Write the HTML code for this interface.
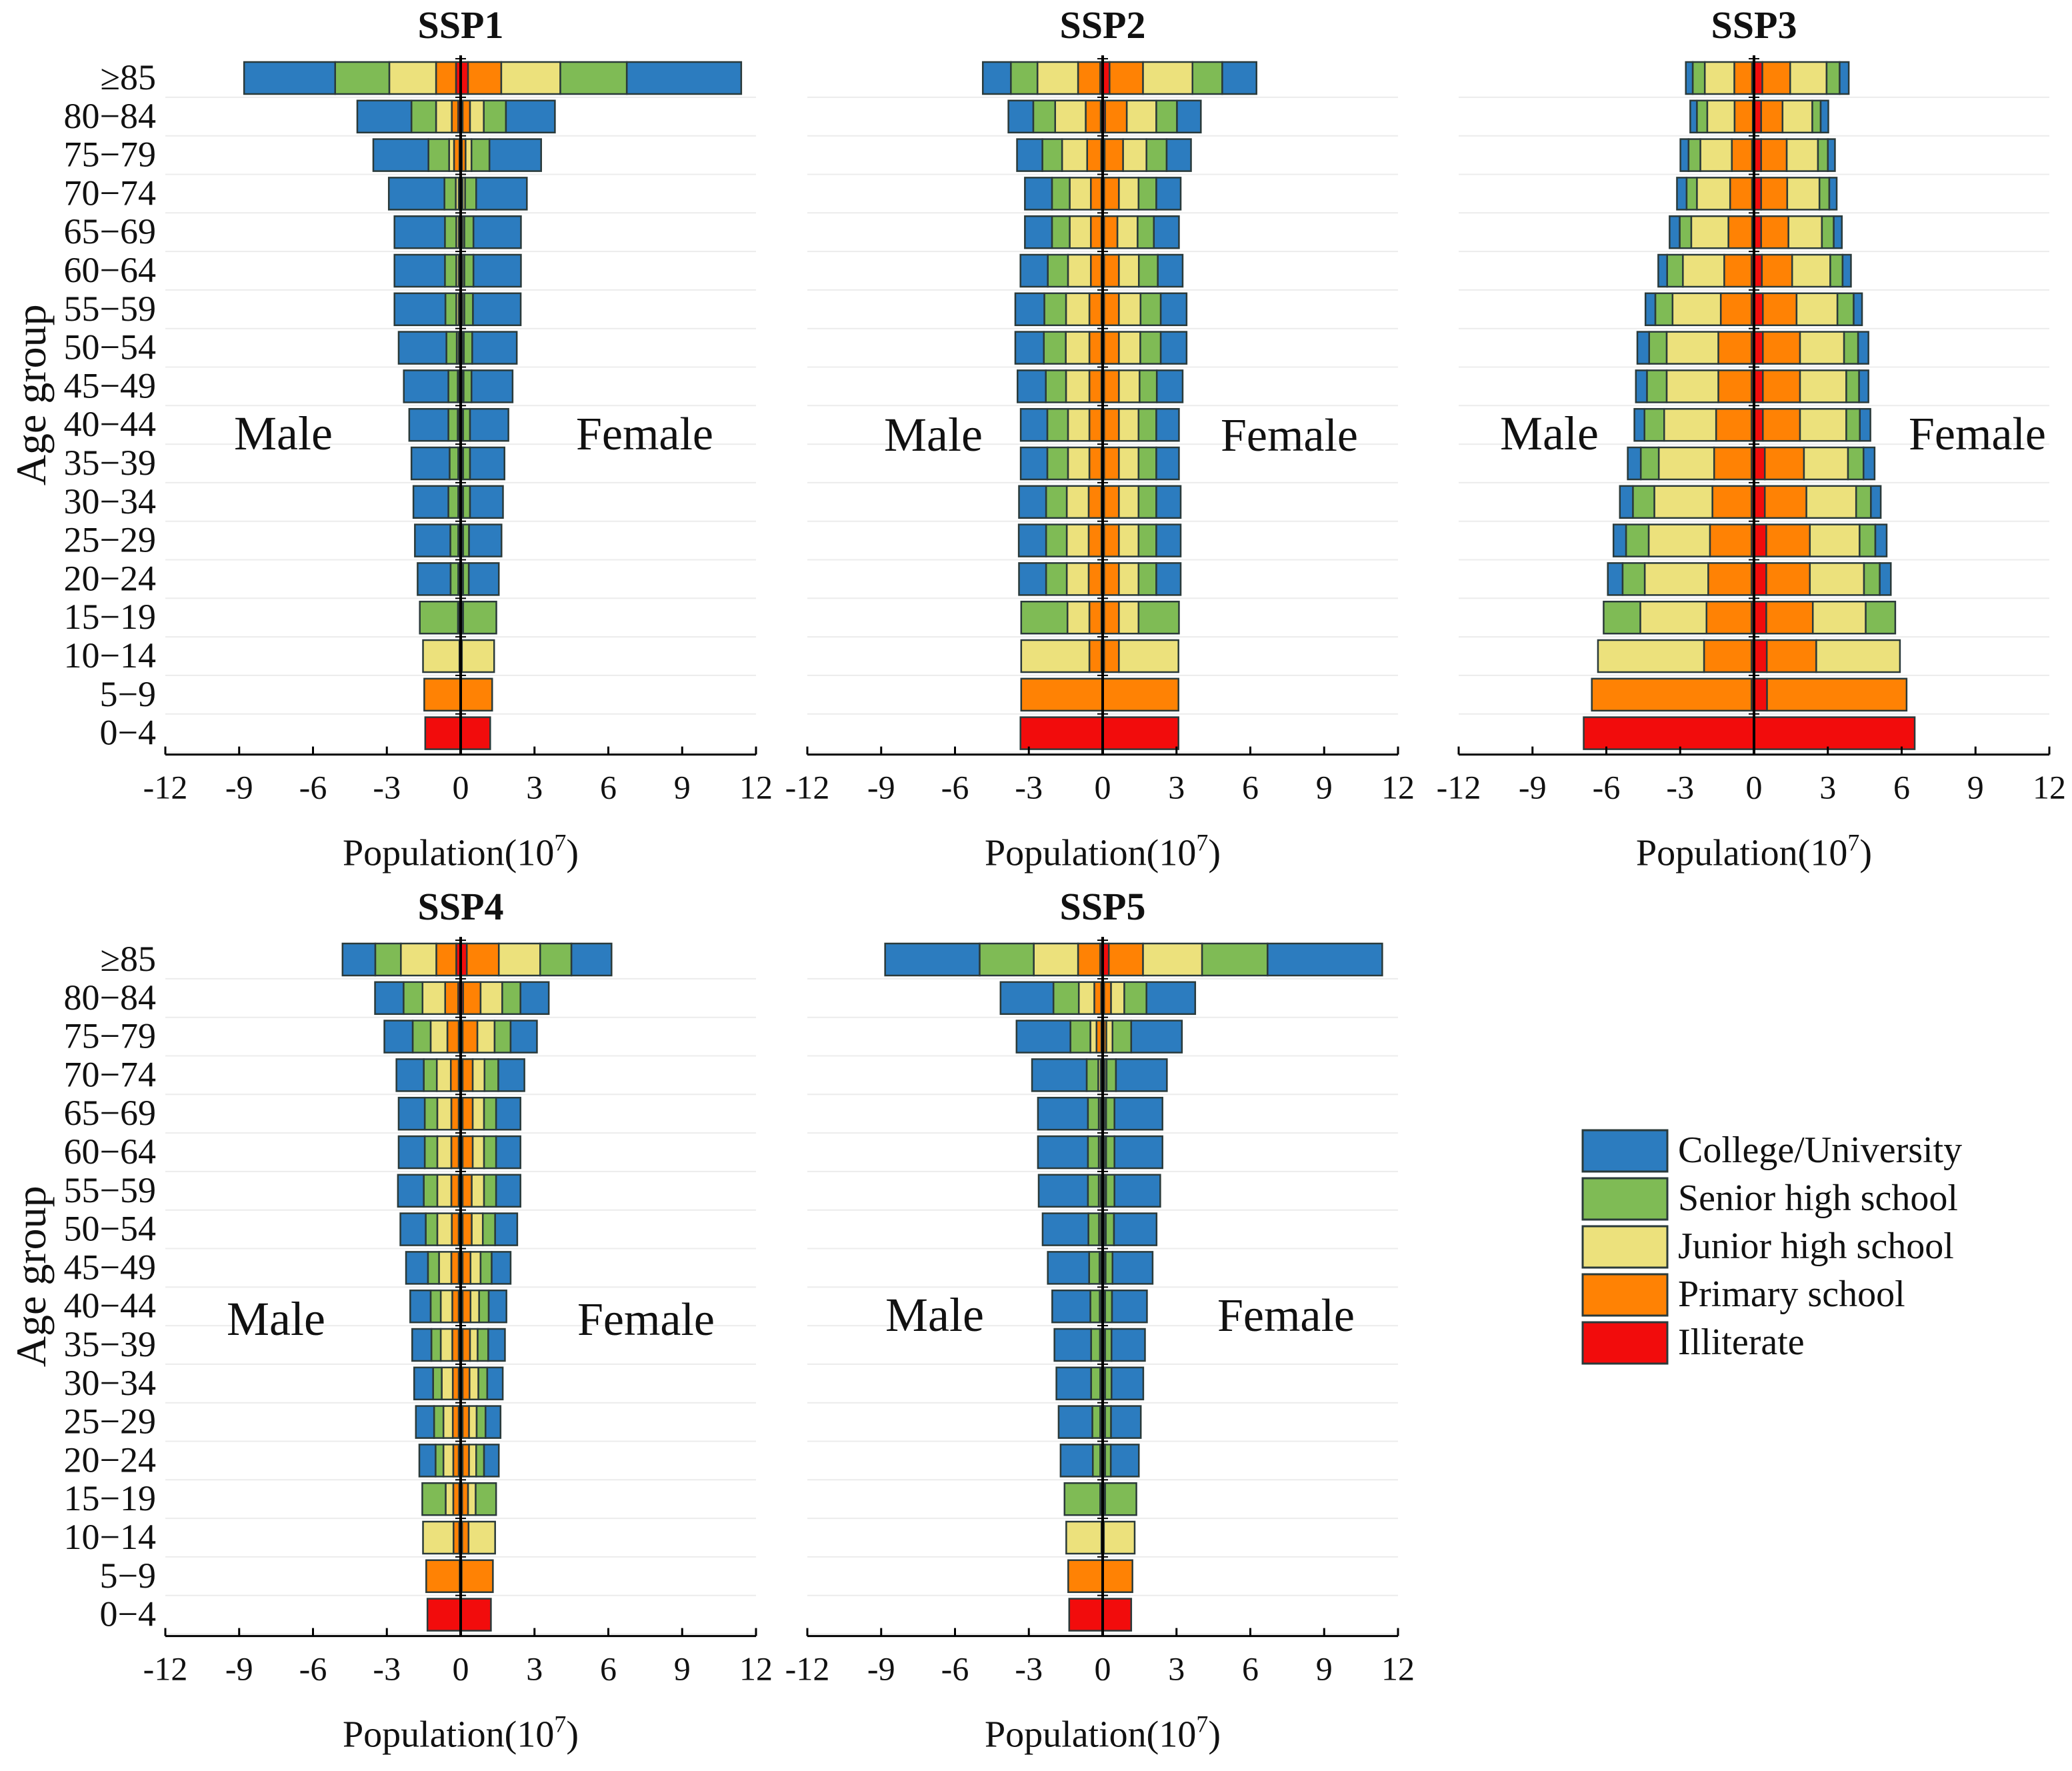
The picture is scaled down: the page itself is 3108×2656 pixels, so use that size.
<!DOCTYPE html>
<html><head><meta charset="utf-8"><style>
html,body{margin:0;padding:0;background:#fff;}
svg{display:block;font-family:"Liberation Serif",serif;}
</style></head><body>
<svg id="chart" width="3108" height="2656" viewBox="0 0 3108 2656" xmlns="http://www.w3.org/2000/svg"></svg>
<script>
// Age categories (top to bottom)
const ageGroups = ["≥85","80−84","75−79","70−74","65−69","60−64","55−59","50−54","45−49","40−44","35−39","30−34","25−29","20−24","15−19","10−14","5−9","0−4"];
const xTicks = [-12,-9,-6,-3,0,3,6,9,12];
const levels = ["Illiterate","Primary school","Junior high school","Senior high school","College/University"];
// cumulative population (10^7) with education up to each level: [illiterate, primary, junior, senior, college]
const ssp1Male = [[.19,1.0,2.9,5.1,8.8],[.1,.36,1.0,2.0,4.2],[.05,.27,.47,1.31,3.55],[.03,.08,.2,.66,2.92],[.03,.08,.18,.64,2.69],[.03,.08,.18,.64,2.69],[.03,.08,.18,.62,2.69],[.03,.08,.16,.58,2.52],[.02,.06,.12,.5,2.31],[.02,.06,.12,.5,2.09],[.02,.05,.1,.45,2.0],[.02,.05,.1,.5,1.92],[.02,.05,.1,.42,1.86],[.02,.05,.1,.41,1.75],[.02,.05,.11,1.66],[.02,.05,1.53],[.02,1.48],[1.44]];
const ssp1Female = [[.3,1.65,4.05,6.75,11.4],[.08,.38,.94,1.84,3.83],[.05,.2,.44,1.17,3.27],[.03,.08,.18,.63,2.69],[.03,.07,.15,.52,2.45],[.03,.07,.15,.52,2.45],[.03,.07,.15,.5,2.44],[.02,.06,.13,.47,2.28],[.02,.06,.12,.44,2.11],[.02,.05,.1,.38,1.94],[.02,.05,.1,.38,1.78],[.02,.05,.1,.38,1.72],[.02,.05,.1,.34,1.66],[.02,.05,.1,.33,1.55],[.02,.05,.1,1.45],[.02,.05,1.36],[.02,1.28],[1.2]];
const ssp2Male = [[.1,1.0,2.65,3.73,4.87],[.08,.69,1.93,2.82,3.83],[.06,.63,1.65,2.45,3.48],[.05,.48,1.34,2.06,3.16],[.05,.48,1.34,2.06,3.16],[.05,.48,1.41,2.23,3.34],[.05,.54,1.49,2.37,3.55],[.05,.54,1.5,2.39,3.55],[.05,.54,1.49,2.31,3.46],[.05,.54,1.41,2.25,3.33],[.05,.54,1.41,2.25,3.33],[.05,.57,1.46,2.3,3.4],[.05,.57,1.46,2.3,3.41],[.05,.57,1.46,2.3,3.4],[.05,.54,1.43,3.31],[.05,.54,3.31],[.02,3.31],[3.34]];
const ssp2Female = [[.28,1.64,3.65,4.86,6.25],[.1,.98,2.18,3.02,3.99],[.08,.83,1.78,2.6,3.59],[.06,.66,1.46,2.18,3.17],[.06,.6,1.42,2.08,3.1],[.06,.66,1.47,2.24,3.25],[.06,.66,1.54,2.36,3.41],[.06,.66,1.53,2.36,3.41],[.06,.66,1.5,2.2,3.25],[.06,.66,1.46,2.18,3.1],[.06,.66,1.46,2.18,3.1],[.06,.66,1.46,2.18,3.17],[.06,.66,1.46,2.18,3.17],[.06,.66,1.46,2.18,3.17],[.06,.66,1.46,3.1],[.06,.66,3.08],[.02,3.08],[3.08]];
const ssp3Male = [[.08,.8,2.0,2.49,2.77],[.05,.79,1.9,2.32,2.59],[.08,.9,2.18,2.66,2.99],[.08,.97,2.32,2.74,3.13],[.08,1.04,2.55,3.02,3.43],[.1,1.21,2.89,3.53,3.89],[.1,1.35,3.31,4.01,4.41],[.1,1.45,3.55,4.26,4.74],[.1,1.45,3.55,4.35,4.8],[.1,1.54,3.65,4.45,4.86],[.1,1.62,3.87,4.6,5.13],[.1,1.69,4.05,4.92,5.45],[.1,1.79,4.28,5.2,5.71],[.1,1.86,4.44,5.34,5.94],[.1,1.93,4.62,6.11],[.1,2.03,6.34],[.1,6.59],[6.92]];
const ssp3Female = [[.34,1.47,2.95,3.48,3.85],[.29,1.16,2.37,2.71,3.02],[.29,1.33,2.6,3.0,3.29],[.29,1.35,2.66,3.06,3.36],[.29,1.4,2.76,3.24,3.57],[.32,1.55,3.1,3.6,3.94],[.36,1.73,3.39,4.05,4.39],[.36,1.87,3.66,4.23,4.65],[.36,1.87,3.75,4.27,4.65],[.36,1.87,3.75,4.3,4.73],[.44,2.03,3.82,4.45,4.9],[.44,2.13,4.15,4.75,5.15],[.5,2.27,4.29,4.93,5.39],[.5,2.27,4.47,5.11,5.56],[.5,2.39,4.54,5.74],[.52,2.53,5.93],[.53,6.2],[6.53]];
const ssp4Male = [[.18,.99,2.43,3.47,4.8],[.1,.63,1.55,2.32,3.48],[.08,.54,1.22,1.95,3.1],[.08,.4,.97,1.5,2.61],[.08,.38,.95,1.46,2.52],[.08,.38,.95,1.46,2.52],[.08,.38,.95,1.5,2.55],[.08,.36,.95,1.42,2.45],[.08,.38,.88,1.33,2.22],[.08,.34,.81,1.22,2.05],[.08,.34,.81,1.19,1.97],[.08,.32,.77,1.12,1.89],[.08,.32,.7,1.08,1.82],[.08,.3,.7,1.02,1.68],[.06,.3,.61,1.56],[.06,.29,1.53],[.04,1.4],[1.35]];
const ssp4Female = [[.25,1.55,3.23,4.5,6.13],[.1,.81,1.69,2.43,3.58],[.08,.68,1.38,2.03,3.1],[.08,.49,.97,1.53,2.59],[.08,.49,.95,1.44,2.43],[.08,.49,.95,1.44,2.43],[.08,.45,.95,1.44,2.43],[.08,.45,.9,1.4,2.3],[.08,.4,.81,1.26,2.03],[.08,.4,.75,1.14,1.86],[.08,.38,.69,1.12,1.8],[.08,.36,.72,1.08,1.71],[.08,.34,.65,1.01,1.62],[.08,.34,.63,.95,1.55],[.06,.3,.61,1.44],[.06,.32,1.4],[.04,1.31],[1.23]];
const ssp5Male = [[.1,1.0,2.8,5.0,8.84],[.06,.34,.97,2.0,4.15],[.05,.25,.5,1.31,3.5],[.03,.08,.18,.65,2.87],[.03,.08,.16,.6,2.63],[.03,.08,.16,.6,2.63],[.03,.08,.16,.6,2.6],[.03,.07,.15,.58,2.44],[.02,.06,.13,.55,2.23],[.02,.06,.12,.5,2.05],[.02,.05,.11,.47,1.96],[.02,.05,.1,.47,1.88],[.02,.05,.1,.42,1.79],[.02,.05,.1,.4,1.71],[.02,.05,.1,1.55],[.02,.05,1.48],[.02,1.4],[1.36]];
const ssp5Female = [[.25,1.64,4.04,6.7,11.36],[.06,.34,.88,1.78,3.76],[.05,.15,.4,1.16,3.22],[.03,.08,.16,.54,2.61],[.03,.07,.14,.48,2.43],[.03,.07,.14,.48,2.43],[.03,.07,.14,.48,2.34],[.02,.06,.13,.46,2.19],[.02,.06,.12,.4,2.03],[.02,.05,.1,.38,1.8],[.02,.05,.1,.36,1.72],[.02,.05,.1,.36,1.65],[.02,.05,.1,.34,1.55],[.02,.05,.1,.33,1.47],[.02,.05,.1,1.37],[.02,.05,1.3],[.02,1.21],[1.16]];

const colors = ["#f20c0c","#ff8204","#ece17c","#7fbb55","#2c7cbf"];
const NS = "http://www.w3.org/2000/svg";
const svg = document.getElementById("chart");
function mk(tag, attrs, parent){const e=document.createElementNS(NS,tag);for(const k in attrs)e.setAttribute(k,attrs[k]);(parent||svg).appendChild(e);return e;}

const panels = [
 {title:"SSP1", male:ssp1Male, female:ssp1Female, x0:248, top:117, ylabels:true, maleDx:-266, femDx:276, lblY:650},
 {title:"SSP2", male:ssp2Male, female:ssp2Female, x0:1211, top:117, ylabels:false, maleDx:-254, femDx:280, lblY:652},
 {title:"SSP3", male:ssp3Male, female:ssp3Female, x0:2188, top:117, ylabels:false, maleDx:-307, femDx:335, lblY:650},
 {title:"SSP4", male:ssp4Male, female:ssp4Female, x0:248, top:1439, ylabels:true, maleDx:-277, femDx:278, lblY:1978},
 {title:"SSP5", male:ssp5Male, female:ssp5Female, x0:1211, top:1439, ylabels:false, maleDx:-252, femDx:275, lblY:1972}
];
const W = 886, STEP = 57.8, BH = 48;

panels.forEach((p,pi)=>{
  const g = mk("g",{});
  
  
  const xs = v => p.x0 + (v+12)/24*W;
  const ys = i => p.top + i*STEP;
  const axisY = ys(17) + 32;
  for(let i=1;i<=18;i++){
    const y = ys(i)-STEP/2;
    const l = mk("line",{x1:p.x0,x2:p.x0+W,y1:y,y2:y,stroke:"#ececec","stroke-width":2},g);
    
    
  }
  [["male",-1],["female",1]].forEach(([sex,sg])=>{
    const data = p[sex];
    data.forEach((row,i)=>{
      let prev = 0;
      for(let k=0;k<5;k++){
        const cum = row[Math.min(k,row.length-1)];
        if(cum>prev){
          const a = xs(sg*prev), b = xs(sg*cum);
          const r = mk("rect",{x:Math.min(a,b),y:ys(i)-BH/2,width:Math.abs(b-a),height:BH,fill:colors[k],stroke:"#2a3a3a","stroke-width":2.5},g);
          
          
        }
        prev = Math.max(prev,cum);
      }
    });
  });
  const z = mk("line",{x1:xs(0),x2:xs(0),y1:ys(0)-BH/2-10,y2:axisY,stroke:"#000","stroke-width":4},g);
  
  
  for(let i=0;i<18;i++){
    const t = mk("line",{x1:xs(0)-8,x2:xs(0)+8,y1:ys(i)-STEP/2,y2:ys(i)-STEP/2,stroke:"#000","stroke-width":2},g);
    
    
  }
  const ax = mk("line",{x1:p.x0,x2:p.x0+W,y1:axisY,y2:axisY,stroke:"#000","stroke-width":3},g);
  
  
  xTicks.forEach(t=>{
    const tk = mk("line",{x1:xs(t),x2:xs(t),y1:axisY,y2:axisY-12,stroke:"#000","stroke-width":3},g);
    
    
    const tl = mk("text",{x:xs(t),y:axisY+66,"text-anchor":"middle","font-size":50,fill:"#111"},g);
    tl.textContent = String(t);
    
    
  });
  const xl = mk("text",{x:xs(0),y:axisY+166,"text-anchor":"middle","font-size":56,fill:"#111"},g);
  
  
  xl.appendChild(document.createTextNode("Population(10"));
  const sup = mk("tspan",{"font-size":36,dy:-22},xl); sup.textContent="7";
  const cl = mk("tspan",{"font-size":56,dy:22},xl); cl.textContent=")";
  const ti = mk("text",{x:xs(0),y:p.top-60,"text-anchor":"middle","font-size":58,"font-weight":"bold",fill:"#111"},g);
  ti.textContent = p.title;
  
  
  const ml = mk("text",{x:xs(0)+p.maleDx,y:p.lblY+24,"text-anchor":"middle","font-size":72,fill:"#111"},g);
  ml.textContent="Male";
  
  
  const fl = mk("text",{x:xs(0)+p.femDx,y:p.lblY+24,"text-anchor":"middle","font-size":70,fill:"#111"},g);
  fl.textContent="Female";
  
  
  if(p.ylabels){
    ageGroups.forEach((a,i)=>{
      const yl = mk("text",{x:p.x0-14,y:ys(i)+17,"text-anchor":"end","font-size":54,fill:"#111"},g);
      yl.textContent=a;
      
      
    });
    const cy = (ys(0)+ys(17))/2 - 16;
    const yt = mk("text",{x:0,y:0,"text-anchor":"middle","font-size":64,fill:"#111",transform:"translate(68,"+cy+") rotate(-90)"},g);
    yt.textContent="Age group";
    
    
  }
});

const legendOrder = [4,3,2,1,0];
const lg = mk("g",{});


legendOrder.forEach((k,j)=>{
  const y = 1695 + j*72;
  const r = mk("rect",{x:2374,y:y,width:127,height:62,fill:colors[k],stroke:"#2a3a3a","stroke-width":3},lg);
  
  
  const t = mk("text",{x:2517,y:y+48,"font-size":56,fill:"#111"},lg);
  t.textContent = levels[k];
  
  
});
</script>
</body></html>
